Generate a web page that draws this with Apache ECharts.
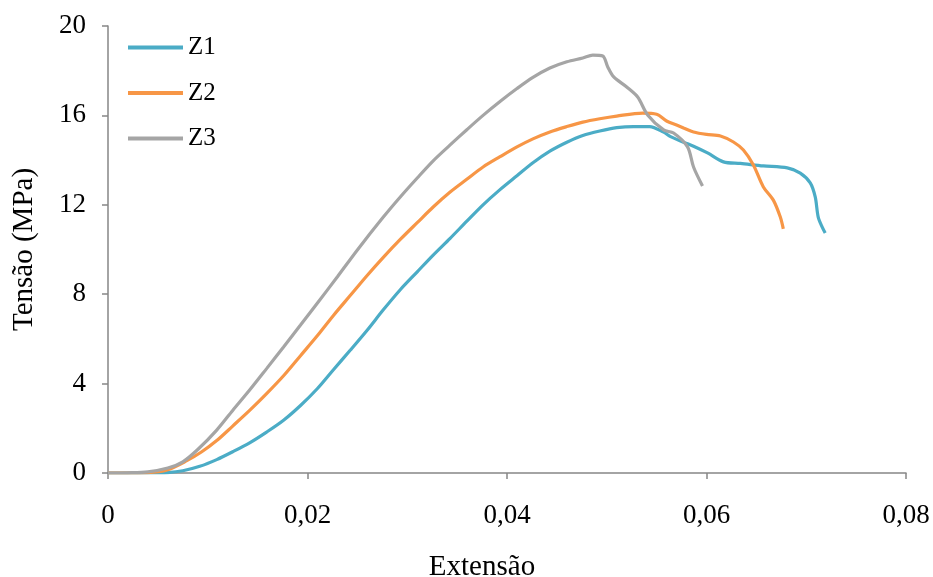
<!DOCTYPE html>
<html>
<head>
<meta charset="utf-8">
<script src="https://cdn.jsdelivr.net/npm/echarts@6/dist/echarts.min.js"></script>
<style>
  html, body { margin: 0; padding: 0; background: #ffffff; }
  #chart { width: 933px; height: 577px; }
</style>
</head>
<body>
<div id="chart"></div>
<script>
// Stress–strain curves for three specimens
const seriesNames = ['Z1', 'Z2', 'Z3'];

// Z1: strain and stress (MPa)
const z1Strain = [0, 0.004, 0.006, 0.0075, 0.0092, 0.0109, 0.0125, 0.0142, 0.0159, 0.0176, 0.0193, 0.021, 0.0226, 0.0243, 0.026, 0.0276, 0.0293, 0.031, 0.0326, 0.0343, 0.036, 0.0376, 0.0393, 0.041, 0.0426, 0.0443, 0.046, 0.0476, 0.0493, 0.051, 0.0527, 0.0543, 0.0557, 0.0564, 0.0577, 0.0587, 0.0601, 0.0617, 0.0634, 0.0657, 0.0681, 0.0694, 0.0704, 0.0709, 0.0712, 0.0716, 0.0719];
const z1Stress = [0, 0.0, 0.02, 0.1, 0.3, 0.6, 0.95, 1.35, 1.83, 2.36, 3.02, 3.78, 4.62, 5.5, 6.4, 7.3, 8.2, 9.0, 9.75, 10.5, 11.28, 12.0, 12.68, 13.3, 13.88, 14.4, 14.8, 15.1, 15.3, 15.45, 15.5, 15.5, 15.25, 15.05, 14.8, 14.62, 14.32, 13.92, 13.85, 13.74, 13.65, 13.42, 12.98, 12.35, 11.45, 11.0, 10.74];

// Z2
const z2Strain = [0, 0.004, 0.006, 0.0079, 0.0094, 0.0109, 0.0125, 0.0142, 0.0159, 0.0176, 0.0193, 0.021, 0.0226, 0.0243, 0.026, 0.0276, 0.0293, 0.031, 0.0326, 0.0343, 0.036, 0.0376, 0.0393, 0.041, 0.0426, 0.0443, 0.046, 0.0476, 0.0493, 0.051, 0.0536, 0.055, 0.056, 0.057, 0.0577, 0.0587, 0.06, 0.0614, 0.0627, 0.0637, 0.0647, 0.0657, 0.0667, 0.0674, 0.0677];
const z2Stress = [0, 0.02, 0.15, 0.55, 0.95, 1.45, 2.1, 2.8, 3.55, 4.35, 5.25, 6.15, 7.05, 7.95, 8.85, 9.65, 10.45, 11.2, 11.9, 12.57, 13.15, 13.69, 14.15, 14.59, 14.95, 15.26, 15.5, 15.7, 15.85, 15.97, 16.1, 16.05, 15.75, 15.57, 15.44, 15.26, 15.15, 15.08, 14.81, 14.45, 13.78, 12.8, 12.21, 11.45, 10.92];

// Z3
const z3Strain = [0, 0.002, 0.004, 0.006, 0.0075, 0.009, 0.0109, 0.0125, 0.0142, 0.0159, 0.0176, 0.0193, 0.021, 0.023, 0.025, 0.0276, 0.0293, 0.031, 0.0326, 0.0343, 0.036, 0.0376, 0.0393, 0.041, 0.0426, 0.0443, 0.046, 0.0476, 0.0486, 0.0496, 0.0501, 0.0507, 0.052, 0.0531, 0.0541, 0.0557, 0.0567, 0.0581, 0.0587, 0.0596];
const z3Stress = [0, 0.01, 0.05, 0.22, 0.5, 1.05, 1.92, 2.8, 3.71, 4.67, 5.64, 6.62, 7.61, 8.78, 9.98, 11.45, 12.35, 13.2, 13.97, 14.68, 15.37, 16.0, 16.62, 17.2, 17.7, 18.12, 18.4, 18.57, 18.7, 18.66, 18.17, 17.72, 17.27, 16.82, 16.02, 15.35, 15.21, 14.59, 13.69, 12.84];

// Axis tick values
const xTicks = [0, 0.02, 0.04, 0.06, 0.08];
const yTicks = [0, 4, 8, 12, 16, 20];

const colors = ['#4BACC6', '#F79646', '#A5A5A5'];

function pairs(xs, ys) {
  return xs.map((x, i) => [x, ys[i]]);
}

const chart = echarts.init(document.getElementById('chart'), null, { renderer: 'canvas' });

const serif = 'Liberation Serif';
const axisFont = { fontFamily: serif, fontSize: 27, color: '#000000' };
const axisLineStyle = { color: '#868686', width: 1.5 };

chart.setOption({
  animation: false,
  backgroundColor: '#ffffff',
  color: colors,
  grid: { left: 108, right: 27, top: 26, bottom: 104, containLabel: false, outerBoundsMode: 'none' },
  legend: {
    orient: 'vertical',
    left: 123,
    top: 30,
    itemGap: 20.5,
    itemWidth: 55,
    itemHeight: 4,
    icon: 'rect',
    data: seriesNames,
    textStyle: { fontFamily: serif, fontSize: 25, lineHeight: 25, color: '#000000' }
  },
  xAxis: {
    type: 'value',
    min: xTicks[0],
    max: xTicks[xTicks.length - 1],
    interval: 0.02,
    name: 'Extensão',
    nameLocation: 'middle',
    nameGap: 80,
    nameTextStyle: { fontFamily: serif, fontSize: 29, color: '#000000', padding: [0, 50, 0, 0] },
    axisLine: { show: true, onZero: false, lineStyle: axisLineStyle },
    axisTick: { show: true, length: 6, inside: false, lineStyle: axisLineStyle },
    axisLabel: {
      ...axisFont,
      margin: 29,
      formatter: v => (v === 0 ? '0' : v.toFixed(2).replace('.', ','))
    },
    splitLine: { show: false }
  },
  yAxis: {
    type: 'value',
    min: yTicks[0],
    max: yTicks[yTicks.length - 1],
    interval: 4,
    name: 'Tensão (MPa)',
    nameLocation: 'middle',
    nameGap: 69,
    nameRotate: 90,
    nameTextStyle: { fontFamily: serif, fontSize: 29, color: '#000000' },
    axisLine: { show: true, onZero: false, lineStyle: axisLineStyle },
    axisTick: { show: true, length: 6, inside: false, lineStyle: axisLineStyle },
    axisLabel: { ...axisFont, margin: 22 },
    splitLine: { show: false }
  },
  series: [
    { name: seriesNames[0], type: 'line', data: pairs(z1Strain, z1Stress) },
    { name: seriesNames[1], type: 'line', data: pairs(z2Strain, z2Stress) },
    { name: seriesNames[2], type: 'line', data: pairs(z3Strain, z3Stress) }
  ].map(s => Object.assign(s, {
    showSymbol: false,
    symbol: 'none',
    smooth: 0.3,
    lineStyle: { width: 3.2 },
    z: 3
  }))
});
</script>
</body>
</html>
